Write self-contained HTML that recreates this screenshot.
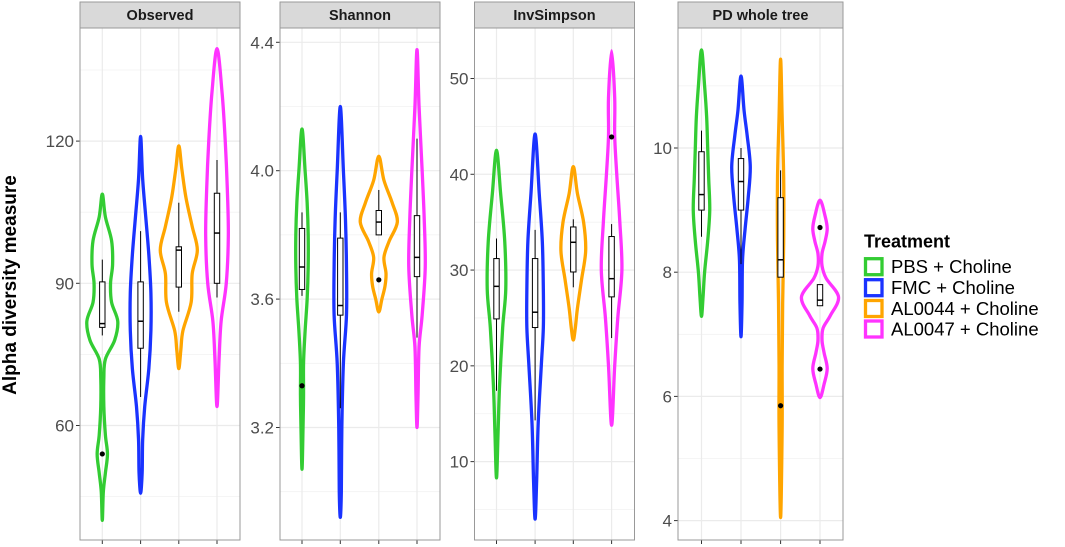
<!DOCTYPE html>
<html><head><meta charset="utf-8"><style>
html,body{margin:0;padding:0;background:#fff;}
svg{display:block;font-family:"Liberation Sans",sans-serif;}
</style></head><body>
<svg id="chart" width="1065" height="547" viewBox="0 0 1065 547" xmlns="http://www.w3.org/2000/svg">
<text x="0" y="0" transform="translate(16,285) rotate(-90)" text-anchor="middle" font-size="19" font-weight="bold" fill="#000">Alpha diversity measure</text>
<g id="panels"></g>
<g>
<text x="864" y="247.5" font-size="18" font-weight="bold">Treatment</text>
<g id="legend-items"></g>
</g>
</svg>
<script>
const treatments = ["PBS + Choline","FMC + Choline","AL0044 + Choline","AL0047 + Choline"];
const colors = ["#33cc33","#1a33ff","#ffa500","#ff33ff"];
const facetNames = ["Observed","Shannon","InvSimpson","PD whole tree"];

// violin profiles: [value, half-width density]
const observedProfiles = [
 [[108.8,0],[104,3],[99,9],[94,10],[90,8],[86,9],[82,15],[78,12],[74,3],[70,1.5],[64,1.5],[58,3],[54,5],[50,3],[46,1],[40,0]],
 [[121,0],[112,2],[104,5],[96,8],[88,10],[80,10],[72,8],[64,4],[57,2],[50,1.5],[45.7,0]],
 [[119,0],[114,3],[108,7],[102,13],[97,18],[92,13],[86,12],[80,4],[76,2],[72,0]],
 [[139.5,0],[130,5],[120,8],[110,10],[100,11],[90,9],[82,4],[74,2],[64,0]]
];
const shannonProfiles = [
 [[4.13,0],[4.0,3],[3.9,5],[3.8,6],[3.7,6],[3.6,5],[3.5,3],[3.4,1.5],[3.3,1.5],[3.2,1],[3.07,0]],
 [[4.2,0],[4.0,3],[3.85,5],[3.7,6],[3.55,6],[3.4,3],[3.2,1.5],[3.0,1],[2.92,0]],
 [[4.045,0],[3.97,5],[3.9,13],[3.84,18],[3.78,10],[3.73,5],[3.68,7],[3.64,6],[3.6,3],[3.56,0]],
 [[4.377,0],[4.2,2],[4.0,5],[3.85,7],[3.7,8],[3.55,5],[3.45,2],[3.3,1],[3.2,0]]
];
const invSimpsonProfiles = [
 [[42.5,0],[38,4],[33,8],[28,9],[24,6],[18,3],[13,1.5],[8.3,0]],
 [[44.2,0],[38,4],[33,7],[28,8],[24,8],[20,6],[14,3],[8,1.5],[4,0]],
 [[40.8,0],[38,4],[35,10],[32,12],[29,8],[26,4],[24,2],[22.7,0]],
 [[52.9,0],[48,3],[44,3],[40,5],[35,8],[30,10],[25,6],[20,3],[13.8,0]]
];
const pdProfiles = [
 [[11.58,0],[11,3],[10.5,5],[10,6],[9.5,7],[9,8],[8.5,6],[8,3],[7.6,1.5],[7.29,0]],
 [[11.16,0],[10.6,3],[10.2,6],[9.7,9],[9.2,7],[8.7,4],[8.2,1.5],[7.5,1],[6.96,0]],
 [[11.43,0],[10.5,1.5],[9.5,3],[8.5,3],[7.5,2],[6.5,1.5],[5.5,1.5],[4.05,0]],
 [[9.16,0],[8.9,5],[8.7,7],[8.5,5],[8.3,2],[8.1,2],[7.9,6],[7.6,18],[7.3,10],[7.1,3],[6.9,2],[6.7,4],[6.45,7],[6.2,4],[5.98,0]]
];
// box stats: [lowWhisker, q1, median, q3, highWhisker]
const observedBoxes = [[79,80.7,81.5,90.3,95],[66,76.3,82,90.3,101],[84,89.2,97,97.7,107],[87,90,100.6,109,116]];
const shannonBoxes = [[3.61,3.63,3.70,3.82,3.87],[3.26,3.55,3.58,3.79,3.87],[3.80,3.80,3.84,3.876,3.94],[3.48,3.67,3.73,3.86,4.1]];
const invSimpsonBoxes = [[17.4,24.9,28.3,31.2,33.3],[14.3,24,25.6,31.2,34.2],[28.2,29.8,32.9,34.5,35.3],[22.9,27.2,29.1,33.5,34.8]];
const pdBoxes = [[8.57,9.0,9.25,9.94,10.28],[8.13,9.0,9.46,9.83,10.0],[7.92,7.92,8.2,9.2,9.64],[7.46,7.46,7.55,7.8,7.8]];
// outliers: [groupIndex, value]
const observedOutliers = [[0,54]];
const shannonOutliers = [[0,3.33],[2,3.66]];
const invSimpsonOutliers = [[3,43.9]];
const pdOutliers = [[2,5.85],[3,8.72],[3,6.44]];
// tick labels
const observedTicks = [60,90,120];
const observedMinor = [45,75,105,135];
const shannonTicks = [3.2,3.6,4.0,4.4];
const shannonMinor = [3.0,3.4,3.8,4.2];
const invSimpsonTicks = [10,20,30,40,50];
const invSimpsonMinor = [5,15,25,35,45];
const pdTicks = [4,6,8,10];
const pdMinor = [5,7,9,11];

const NS="http://www.w3.org/2000/svg";
function mk(tag,attrs,parent){const e=document.createElementNS(NS,tag);for(const k in attrs)e.setAttribute(k,attrs[k]);parent.appendChild(e);return e;}

const layout = [
 {x0:80,x1:240,cx:[102.3,140.6,178.8,217],ref:[90,283.3],ppu:4.74,dec:0},
 {x0:280,x1:440,cx:[302,340.3,378.8,417],ref:[4.4,42.3],ppu:321,dec:1},
 {x0:474.5,x1:634.5,cx:[496.5,535.1,573.3,611.6],ref:[50,78.5],ppu:9.578,dec:0},
 {x0:678,x1:843,cx:[701.5,741,780.6,820],ref:[10,148],ppu:62.1,dec:0}
];
const facets = [
 {profiles:observedProfiles,boxes:observedBoxes,outliers:observedOutliers,ticks:observedTicks,minor:observedMinor},
 {profiles:shannonProfiles,boxes:shannonBoxes,outliers:shannonOutliers,ticks:shannonTicks,minor:shannonMinor},
 {profiles:invSimpsonProfiles,boxes:invSimpsonBoxes,outliers:invSimpsonOutliers,ticks:invSimpsonTicks,minor:invSimpsonMinor},
 {profiles:pdProfiles,boxes:pdBoxes,outliers:pdOutliers,ticks:pdTicks,minor:pdMinor}
];
const PT=28, PB=540, WSCALE=1.03;

function spline(pts){
  const n=pts.length;let d=`M${pts[0][0]},${pts[0][1]}`;
  for(let i=0;i<n;i++){
    const p0=pts[(i-1+n)%n],p1=pts[i],p2=pts[(i+1)%n],p3=pts[(i+2)%n];
    const c1=[p1[0]+(p2[0]-p0[0])/6,p1[1]+(p2[1]-p0[1])/6];
    const c2=[p2[0]-(p3[0]-p1[0])/6,p2[1]-(p3[1]-p1[1])/6];
    d+=`C${c1[0]},${c1[1]} ${c2[0]},${c2[1]} ${p2[0]},${p2[1]}`;
  }
  return d+"Z";
}

const panelsG=document.getElementById('panels');
facets.forEach((f,fi)=>{
  const L=layout[fi];
  const y=v=>L.ref[1]+(L.ref[0]-v)*L.ppu;
  const g=mk('g',{},panelsG);
  
  
  const bg=mk('rect',{x:L.x0,y:PT,width:L.x1-L.x0,height:PB-PT,fill:'#fff'},g);
  
  
  f.minor.forEach(v=>{const yy=y(v);if(yy>PT&&yy<PB){const l=mk('line',{x1:L.x0,x2:L.x1,y1:yy,y2:yy,stroke:'#f2f2f2','stroke-width':0.8},g);
    
    }});
  f.ticks.forEach(v=>{const yy=y(v);const l=mk('line',{x1:L.x0,x2:L.x1,y1:yy,y2:yy,stroke:'#ebebeb','stroke-width':1.2},g);
    
    
    const t=mk('line',{x1:L.x0-4,x2:L.x0,y1:yy,y2:yy,stroke:'#333','stroke-width':1},g);
    
    
    const tx=mk('text',{x:L.x0-6,y:yy+6,'text-anchor':'end','font-size':17,fill:'#4d4d4d'},g);
    
    
    tx.textContent=v.toFixed(L.dec);});
  L.cx.forEach(cx=>{const l=mk('line',{x1:cx,x2:cx,y1:PT,y2:PB,stroke:'#ebebeb','stroke-width':1.2},g);
    
    
    const t=mk('line',{x1:cx,x2:cx,y1:PB,y2:PB+4,stroke:'#333','stroke-width':1},g);
    
    });
  f.profiles.forEach((prof,gi)=>{
    const cx=L.cx[gi];
    const right=prof.map(p=>[cx+p[1]*WSCALE,y(p[0])]);
    const left=prof.slice(1,-1).reverse().map(p=>[cx-p[1]*WSCALE,y(p[0])]);
    const v=mk('path',{d:spline(right.concat(left)),fill:'none',stroke:colors[gi],'stroke-width':3.3,'stroke-linejoin':'round'},g);
    
    
    const b=f.boxes[gi];
    const w=mk('line',{x1:cx,x2:cx,y1:y(b[0]),y2:y(b[4]),stroke:'#000','stroke-width':1},g);
    
    
    const r=mk('rect',{x:cx-2.7,y:y(b[3]),width:5.4,height:Math.max(1,y(b[1])-y(b[3])),fill:'#fff',stroke:'#000','stroke-width':1},g);
    
    
    const m=mk('line',{x1:cx-2.7,x2:cx+2.7,y1:y(b[2]),y2:y(b[2]),stroke:'#000','stroke-width':1.5},g);
    
    
  });
  f.outliers.forEach(o=>{const c=mk('circle',{cx:L.cx[o[0]],cy:y(o[1]),r:2.6,fill:'#000'},g);
    
    });
  const br=mk('rect',{x:L.x0,y:PT,width:L.x1-L.x0,height:PB-PT,fill:'none',stroke:'#999','stroke-width':1},g);
  
  
  const st=mk('rect',{x:L.x0,y:2,width:L.x1-L.x0,height:PT-2,fill:'#d9d9d9',stroke:'#999','stroke-width':1},g);
  
  
  const sl=mk('text',{x:(L.x0+L.x1)/2,y:20,'text-anchor':'middle','font-size':14.5,'font-weight':'bold',fill:'#1a1a1a'},g);
  
  
  sl.textContent=facetNames[fi];
});

const lg=document.getElementById('legend-items');
const rowY=[266.7,287.7,308.5,329];
treatments.forEach((t,i)=>{
  const k=mk('rect',{x:865.5,y:rowY[i]-8,width:16.5,height:16,fill:'#fff',stroke:colors[i],'stroke-width':3.3},lg);
  
  
  const tx=mk('text',{x:891,y:rowY[i]+6.5,'font-size':18.5,fill:'#000'},lg);
  
  
  tx.textContent=t;
});
</script>
</body></html>
